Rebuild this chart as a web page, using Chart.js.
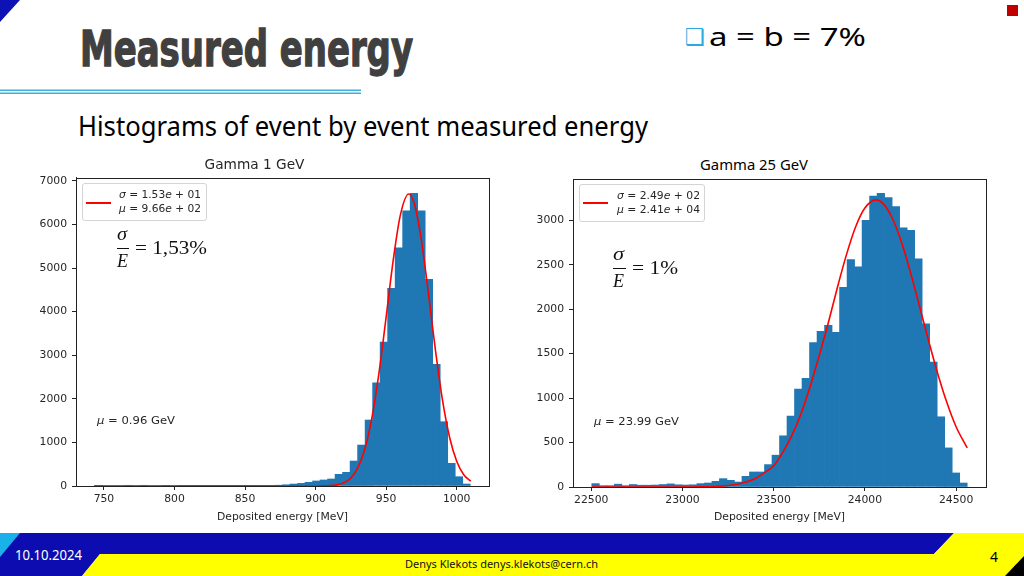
<!DOCTYPE html>
<html>
<head>
<meta charset="utf-8">
<script src="https://cdn.jsdelivr.net/npm/chart.js@4.4.1/dist/chart.umd.min.js"></script>
<style>
  html, body { margin: 0; padding: 0; }
  body { width: 1024px; height: 576px; position: relative; overflow: hidden; background: #fff; }
  .t { position: absolute; white-space: nowrap; line-height: 1; transform-origin: 0 0; display: inline-block; }
  .sans { font-family: "Noto Sans", "Open Sans", sans-serif; }
  .dv { font-family: "DejaVu Sans", sans-serif; color: #262626; }
  .serif { font-family: "Liberation Serif", "DejaVu Serif", serif; color: #111; }
  .box { position: absolute; border: 1px solid #d4d4d4; border-radius: 3px; background: rgba(255,255,255,0.85); box-sizing: border-box; }
  .redline { position: absolute; height: 2px; background: #ff0000; }
  .bar { position: absolute; height: 1px; background: #111; }
  .chart { position: absolute; }
</style>
</head>
<body>

<svg width="1024" height="576" style="position:absolute;left:0;top:0">
  <polygon points="0,0 20,0 0,22" fill="#0c12b4"/>
  <rect x="1007" y="5" width="11" height="11" fill="#c00000"/>
  <rect x="0" y="89.5" width="361" height="1.5" fill="#3fb0dc"/>
  <rect x="0" y="92.5" width="361" height="1.5" fill="#3fb0dc"/>
  <polygon points="0,533 954,533 934,554 100,554 82,576 0,576" fill="#0c0cb0"/>
  <polygon points="0,533 20,533 0,557" fill="#1ab0ea"/>
  <polygon points="100,554 934,554 954,533 1024,533 1024,576 82,576" fill="#ffff00"/>
  <polygon points="1024,556 1024,576 1005,576" fill="#000"/>
</svg>

<div class="t" data-w="333" style="left:80px;top:25px;font-family:'DejaVu Sans Condensed','DejaVu Sans',sans-serif;font-stretch:condensed;font-weight:bold;font-size:49px;color:#404040;-webkit-text-stroke:1.3px #404040">Measured energy</div>
<div class="t" data-w="20" style="left:685px;top:26px;font-family:'DejaVu Sans',sans-serif;font-size:23px;color:#2aa8e0">❑</div>
<div class="t sans" data-w="157" style="left:709px;top:22.5px;font-size:26px;color:#000">a = b = 7%</div>
<div class="t sans" data-w="570" style="left:78px;top:112px;font-size:27px;color:#000">Histograms of event by event measured energy</div>
<div class="t sans" data-w="108" style="left:700px;top:157px;font-size:15px;color:#000">Gamma 25 GeV</div>

<div class="chart" style="left:20px;top:150px;width:525px;height:380px"><canvas id="left"></canvas></div>
<div class="chart" style="left:516px;top:150px;width:474px;height:380px"><canvas id="right"></canvas></div>

<!-- left plot overlays -->
<div class="box" style="left:82px;top:183px;width:125px;height:38px"></div>
<div class="redline" style="left:86px;top:202px;width:25px"></div>
<div class="t dv" data-w="82" style="left:119px;top:188.8px;font-size:10.5px"><i>σ</i> = 1.53<i>e</i> + 01</div>
<div class="t dv" data-w="82" style="left:119px;top:203.1px;font-size:10.5px"><i>μ</i> = 9.66<i>e</i> + 02</div>
<div class="t serif" data-w="10" style="left:117px;top:225px;font-size:18px;font-style:italic">σ</div>
<div class="bar" style="left:117px;top:248px;width:12px"></div>
<div class="t serif" data-w="11" style="left:117px;top:251.6px;font-size:18px;font-style:italic">E</div>
<div class="t serif" data-w="72" style="left:135px;top:239.2px;font-size:18px">= 1,53%</div>
<div class="t dv" data-w="78" style="left:97px;top:414.7px;font-size:11px"><i>μ</i> = 0.96 GeV</div>

<!-- right plot overlays -->
<div class="box" style="left:579px;top:184px;width:126px;height:38px"></div>
<div class="redline" style="left:583px;top:202px;width:25px"></div>
<div class="t dv" data-w="83" style="left:617px;top:189.8px;font-size:10.5px"><i>σ</i> = 2.49<i>e</i> + 02</div>
<div class="t dv" data-w="83" style="left:617px;top:204.4px;font-size:10.5px"><i>μ</i> = 2.41<i>e</i> + 04</div>
<div class="t serif" data-w="11" style="left:613px;top:245px;font-size:18px;font-style:italic">σ</div>
<div class="bar" style="left:613px;top:268px;width:13px"></div>
<div class="t serif" data-w="11" style="left:613px;top:271.6px;font-size:18px;font-style:italic">E</div>
<div class="t serif" data-w="46" style="left:632px;top:259.2px;font-size:18px">= 1%</div>
<div class="t dv" data-w="85" style="left:594px;top:416px;font-size:11px"><i>μ</i> = 23.99 GeV</div>

<!-- footer -->
<div class="t sans" data-w="67" style="left:15px;top:547.6px;font-size:14px;color:#fff">10.10.2024</div>
<div class="t sans" data-w="8" style="left:990px;top:549px;font-size:15px;color:#000">4</div>
<div class="t sans" data-w="193" style="left:405px;top:557.5px;font-size:11px;color:#111">Denys Klekots denys.klekots@cern.ch</div>

<script>
// Gamma 1 GeV histogram (50 bins) and its fit curve
const leftRange = [743.5, 1009.6];
const leftCounts = [3, 0, 0, 0, 1, 0, 1, 0, 0, 1,
                    0, 1, 1, 2, 1, 2, 3, 2, 4, 5,
                    6, 8, 10, 14, 18, 28, 45, 60, 85, 115,
                    138, 161, 268, 314, 573, 940, 1514, 2370, 3303, 4534,
                    5466, 6315, 6713, 6315, 4740, 2790, 1475, 520, 213, 46];
const leftFitX = [743, 850, 880, 890, 900, 905, 910, 915, 920, 925, 930, 935, 940, 945,
                  950, 955, 960, 966, 970, 975, 980, 985, 990, 995, 1000, 1005, 1010];
const leftFitY = [0, 0, 0, 0, 1, 2, 8, 26, 73, 185, 421, 861, 1582, 2612,
                  3877, 5175, 6204, 6700, 6475, 5636, 4409, 3099, 1957, 1112, 568, 260, 110];
const leftXTicks = [750, 800, 850, 900, 950, 1000];
const leftYTicks = [0, 1000, 2000, 3000, 4000, 5000, 6000, 7000];

// Gamma 25 GeV histogram (50 bins) and its fit curve
const rightRange = [22503, 24561];
const rightCounts = [38, 15, 15, 32, 15, 28, 20, 20, 22, 28,
                     35, 25, 22, 25, 38, 45, 64, 94, 75, 56,
                     120, 169, 169, 252, 358, 576, 798, 1103, 1223, 1626,
                     1750, 1818, 1739, 2247, 2559, 2476, 3000, 3274, 3304, 3256,
                     3154, 2917, 2887, 2567, 1837, 1404, 790, 440, 158, 45];
const rightFitX = [22503, 22800, 23000, 23100, 23200, 23300, 23400, 23450, 23500, 23550,
                   23600, 23650, 23700, 23750, 23800, 23850, 23900, 23950, 24000, 24060,
                   24100, 24150, 24200, 24250, 24300, 24350, 24400, 24450, 24500, 24561];
const rightFitY = [0, 0, 0, 2, 8, 31, 96, 161, 240, 390,
                   580, 825, 1130, 1480, 1850, 2250, 2620, 2930, 3138, 3230,
                   3188, 3026, 2758, 2414, 2030, 1639, 1272, 947, 678, 440];
const rightXTicks = [22500, 23000, 23500, 24000, 24500];
const rightYTicks = [0, 500, 1000, 1500, 2000, 2500, 3000];

const ink = '#262626';
const tickFont = { family: 'DejaVu Sans', size: 10.8 };

// matplotlib-style box around the axes
const frame = {
  id: 'frame',
  afterDraw(c) {
    const a = c.chartArea, ctx = c.ctx;
    ctx.save();
    ctx.strokeStyle = '#222';
    ctx.lineWidth = 1;
    ctx.strokeRect(Math.round(a.left) + 0.5, Math.round(a.top) + 0.5,
                   Math.round(a.right - a.left), Math.round(a.bottom - a.top));
    ctx.restore();
  }
};

function histChart(id, o) {
  const w = (o.range[1] - o.range[0]) / o.counts.length;
  const bars = o.counts.map((c, i) => ({ x: o.range[0] + (i + 0.5) * w, y: c }));
  const fit = o.fitX.map((x, i) => ({ x: x, y: o.fitY[i] }));
  return new Chart(document.getElementById(id), {
    type: 'bar',
    data: {
      datasets: [
        { type: 'line', data: fit, borderColor: '#ff0000', borderWidth: 1.6, pointRadius: 0,
          cubicInterpolationMode: 'monotone', order: 0 },
        { type: 'bar', data: bars, backgroundColor: '#1f77b4', borderWidth: 0,
          barPercentage: 1, categoryPercentage: 1, order: 1 }
      ]
    },
    options: {
      responsive: true,
      maintainAspectRatio: false,
      animation: false,
      layout: { padding: o.padding },
      plugins: {
        legend: { display: false },
        tooltip: { enabled: false },
        title: o.title ? { display: true, text: o.title, color: ink,
          font: { family: 'DejaVu Sans', size: 13.7, weight: 'normal' },
          padding: { top: 7, bottom: 4.5 } } : { display: false }
      },
      scales: {
        x: {
          type: 'linear', min: o.xMin, max: o.xMax, offset: false,
          afterBuildTicks: s => { s.ticks = o.xTicks.map(v => ({ value: v })); },
          afterFit: s => { s.height = o.xAxisH; },
          ticks: { font: tickFont, color: ink, padding: 3, maxRotation: 0, autoSkip: false,
                   callback: v => String(v) },
          grid: { offset: false, drawOnChartArea: false, tickLength: 4, color: '#222' },
          border: { color: '#222', width: 1 },
          title: { display: true, text: 'Deposited energy [MeV]', color: ink,
                   font: { family: 'DejaVu Sans', size: 10.8 }, padding: { top: 0, bottom: 6 } }
        },
        y: {
          type: 'linear', min: 0, max: o.yMax,
          afterBuildTicks: s => { s.ticks = o.yTicks.map(v => ({ value: v })); },
          afterFit: s => { s.width = o.yAxisW; },
          ticks: { font: tickFont, color: ink, padding: 5, callback: v => String(v) },
          grid: { drawOnChartArea: false, tickLength: 4, color: '#222' },
          border: { color: '#222', width: 1 }
        }
      }
    },
    plugins: [frame]
  });
}

histChart('left', {
  range: leftRange, counts: leftCounts, fitX: leftFitX, fitY: leftFitY,
  xTicks: leftXTicks, yTicks: leftYTicks, xMin: 730.2, xMax: 1022.9, yMax: 7069,
  title: 'Gamma 1 GeV', padding: { top: 0, right: 56, bottom: 0, left: 0 },
  xAxisH: 44, yAxisW: 56
});

histChart('right', {
  range: rightRange, counts: rightCounts, fitX: rightFitX, fitY: rightFitY,
  xTicks: rightXTicks, yTicks: rightYTicks, xMin: 22400, xMax: 24664, yMax: 3465,
  title: null, padding: { top: 29, right: 4, bottom: 0, left: 0 },
  xAxisH: 43, yAxisW: 57
});

// squeeze slide texts to the widths they have on the slide
function fitText() {
  document.querySelectorAll('[data-w]').forEach(el => {
    el.style.transform = 'none';
    const w = el.getBoundingClientRect().width;
    if (w > 0) el.style.transform = 'scaleX(' + (el.dataset.w / w) + ')';
  });
}
fitText();
document.fonts.ready.then(fitText);
</script>
</body>
</html>
